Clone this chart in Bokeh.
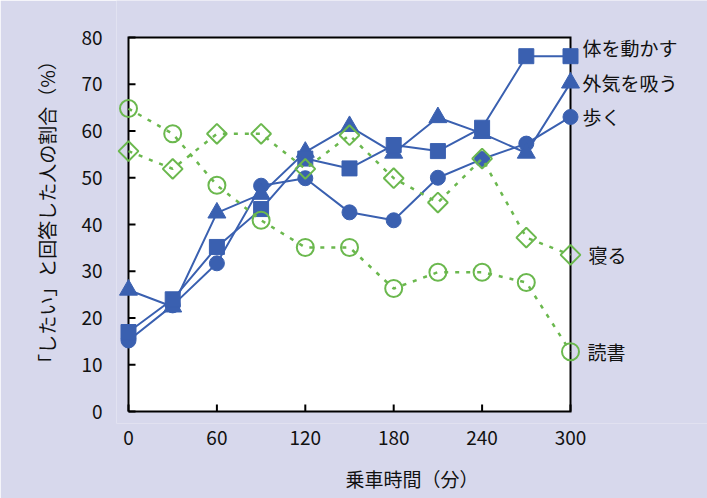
import math
from bokeh.plotting import figure
from bokeh.models import FixedTicker, ColumnDataSource
from bokeh.core.properties import value
from bokeh.embed import file_html
from bokeh.resources import INLINE

# ---- data ----
minutes = [0, 30, 60, 90, 120, 150, 180, 210, 240, 270, 300]
move_body = [17, 24, 35.2, 43.3, 54.1, 52, 57, 55.7, 60.7, 76, 76]      # 体を動かす
fresh_air = [26, 22.4, 42.5, 46.5, 55.5, 61, 55.3, 62.9, 59.5, 55.3, 70.3]  # 外気を吸う
walk = [15.2, 22.7, 31.7, 48.3, 49.9, 42.6, 40.9, 50, 54, 57.3, 63]      # 歩く
sleep = [55.7, 51.9, 59.4, 59.4, 51.9, 59.1, 49.9, 44.7, 54.1, 37.2, 33.5]  # 寝る
reading = [64.8, 59.4, 48.4, 40.9, 35.1, 35.1, 26.3, 29.8, 29.8, 27.6, 12.8]  # 読書
series_names = ["体を動かす", "外気を吸う", "歩く", "寝る", "読書"]
x_ticks = [0, 60, 120, 180, 240, 300]
y_ticks = [0, 10, 20, 30, 40, 50, 60, 70, 80]
x_min, x_max = 0, 300
y_min, y_max = 0, 80

BLUE = "#3a60b0"
GREEN = "#6bb84e"
BG = "#d7d8ec"
FONT = "Noto Sans CJK JP"
TXT = "#111111"

# chart box in pixels and the margins around it (inside the figure)
BOX_L, BOX_W, BOX_T, BOX_H = 128, 442, 37, 374
FIG_W, FIG_H = 707, 498
PAD = 12
RIGHT = FIG_W - BOX_L - BOX_W
sx = (x_max - x_min) / BOX_W
sy = (y_max - y_min) / BOX_H

p = figure(frame_width=PAD + BOX_W + RIGHT, frame_height=BOX_T + BOX_H + PAD,
           min_border_left=BOX_L - PAD, min_border_right=0,
           min_border_top=0, min_border_bottom=FIG_H - BOX_T - BOX_H - PAD,
           x_range=(x_min - PAD * sx, x_max + RIGHT * sx),
           y_range=(y_min - PAD * sy, y_max + BOX_T * sy),
           output_backend="svg", toolbar_location=None)
p.background_fill_color = BG
p.border_fill_color = BG
p.outline_line_color = None
p.grid.visible = False

# white chart box
p.quad(left=[x_min], right=[x_max], bottom=[y_min], top=[y_max],
       fill_color="white", line_color=None, level="underlay")

for ax in (p.xaxis[0], p.yaxis[0]):
    ax.axis_line_color = None
    ax.major_tick_line_color = None
    ax.minor_tick_line_color = None
    ax.major_tick_in = 0
    ax.major_tick_out = 0
    ax.major_label_text_font = FONT
    ax.major_label_text_font_size = "19px"
    ax.major_label_text_color = TXT
    ax.axis_label_text_font = FONT
    ax.axis_label_text_font_size = "19px"
    ax.axis_label_text_font_style = "normal"
    ax.axis_label_text_color = TXT

p.xaxis.ticker = FixedTicker(ticks=x_ticks)
p.yaxis.ticker = FixedTicker(ticks=y_ticks)
p.xaxis.axis_label = "乗車時間（分）"
p.yaxis.axis_label = "「したい」と回答した人の割合（%）"
p.xaxis.major_label_standoff = 7
p.yaxis.major_label_standoff = 14
p.xaxis.axis_label_standoff = 17
p.yaxis.axis_label_standoff = 18

# inward tick marks (7 px long)
TICK = 7
p.segment(x0=x_ticks, y0=[y_min] * len(x_ticks), x1=x_ticks,
          y1=[y_min + TICK * sy] * len(x_ticks), line_color="black", line_width=2)
p.segment(x0=[x_min] * len(y_ticks), y0=y_ticks, x1=[x_min + TICK * sx] * len(y_ticks),
          y1=y_ticks, line_color="black", line_width=2)

# box border
p.line([x_min, x_max, x_max, x_min, x_min], [y_min, y_min, y_max, y_max, y_min],
       line_color="black", line_width=2, line_join="miter")

# blue series (solid)
p.line(minutes, move_body, line_color=BLUE, line_width=2)
p.line(minutes, fresh_air, line_color=BLUE, line_width=2)
p.line(minutes, walk, line_color=BLUE, line_width=2)
p.scatter(minutes, walk, marker="circle", size=15, fill_color=BLUE, line_color=BLUE)
p.scatter(minutes, fresh_air, marker="triangle", size=18, fill_color=BLUE, line_color=BLUE)
p.scatter(minutes, move_body, marker="square", size=15, fill_color=BLUE, line_color=BLUE)

# green series (dotted, hollow markers)
p.line(minutes, sleep, line_color=GREEN, line_width=2.5, line_dash="4 7")
p.line(minutes, reading, line_color=GREEN, line_width=2.5, line_dash="4 7")
p.scatter(minutes, sleep, marker="square", size=14, angle=math.pi / 4, fill_color=None,
          line_color=GREEN, line_width=2)
p.scatter(minutes, reading, marker="circle", size=17, fill_color=None,
          line_color=GREEN, line_width=2)

# end labels
lab_src = ColumnDataSource(dict(
    x=[minutes[-1]] * 5,
    y=[move_body[-1], fresh_air[-1], walk[-1], sleep[-1], reading[-1]],
    t=series_names,
    xo=[12, 12, 12, 18, 17],
    yo=[-9, 0, 0, 0, 0],
))
p.text(x="x", y="y", text="t", x_offset="xo", y_offset="yo", source=lab_src,
       text_font=value(FONT), text_font_size="19px", text_color=TXT,
       text_align="left", text_baseline="middle")

open("out.html", "w").write(file_html(p, INLINE))
